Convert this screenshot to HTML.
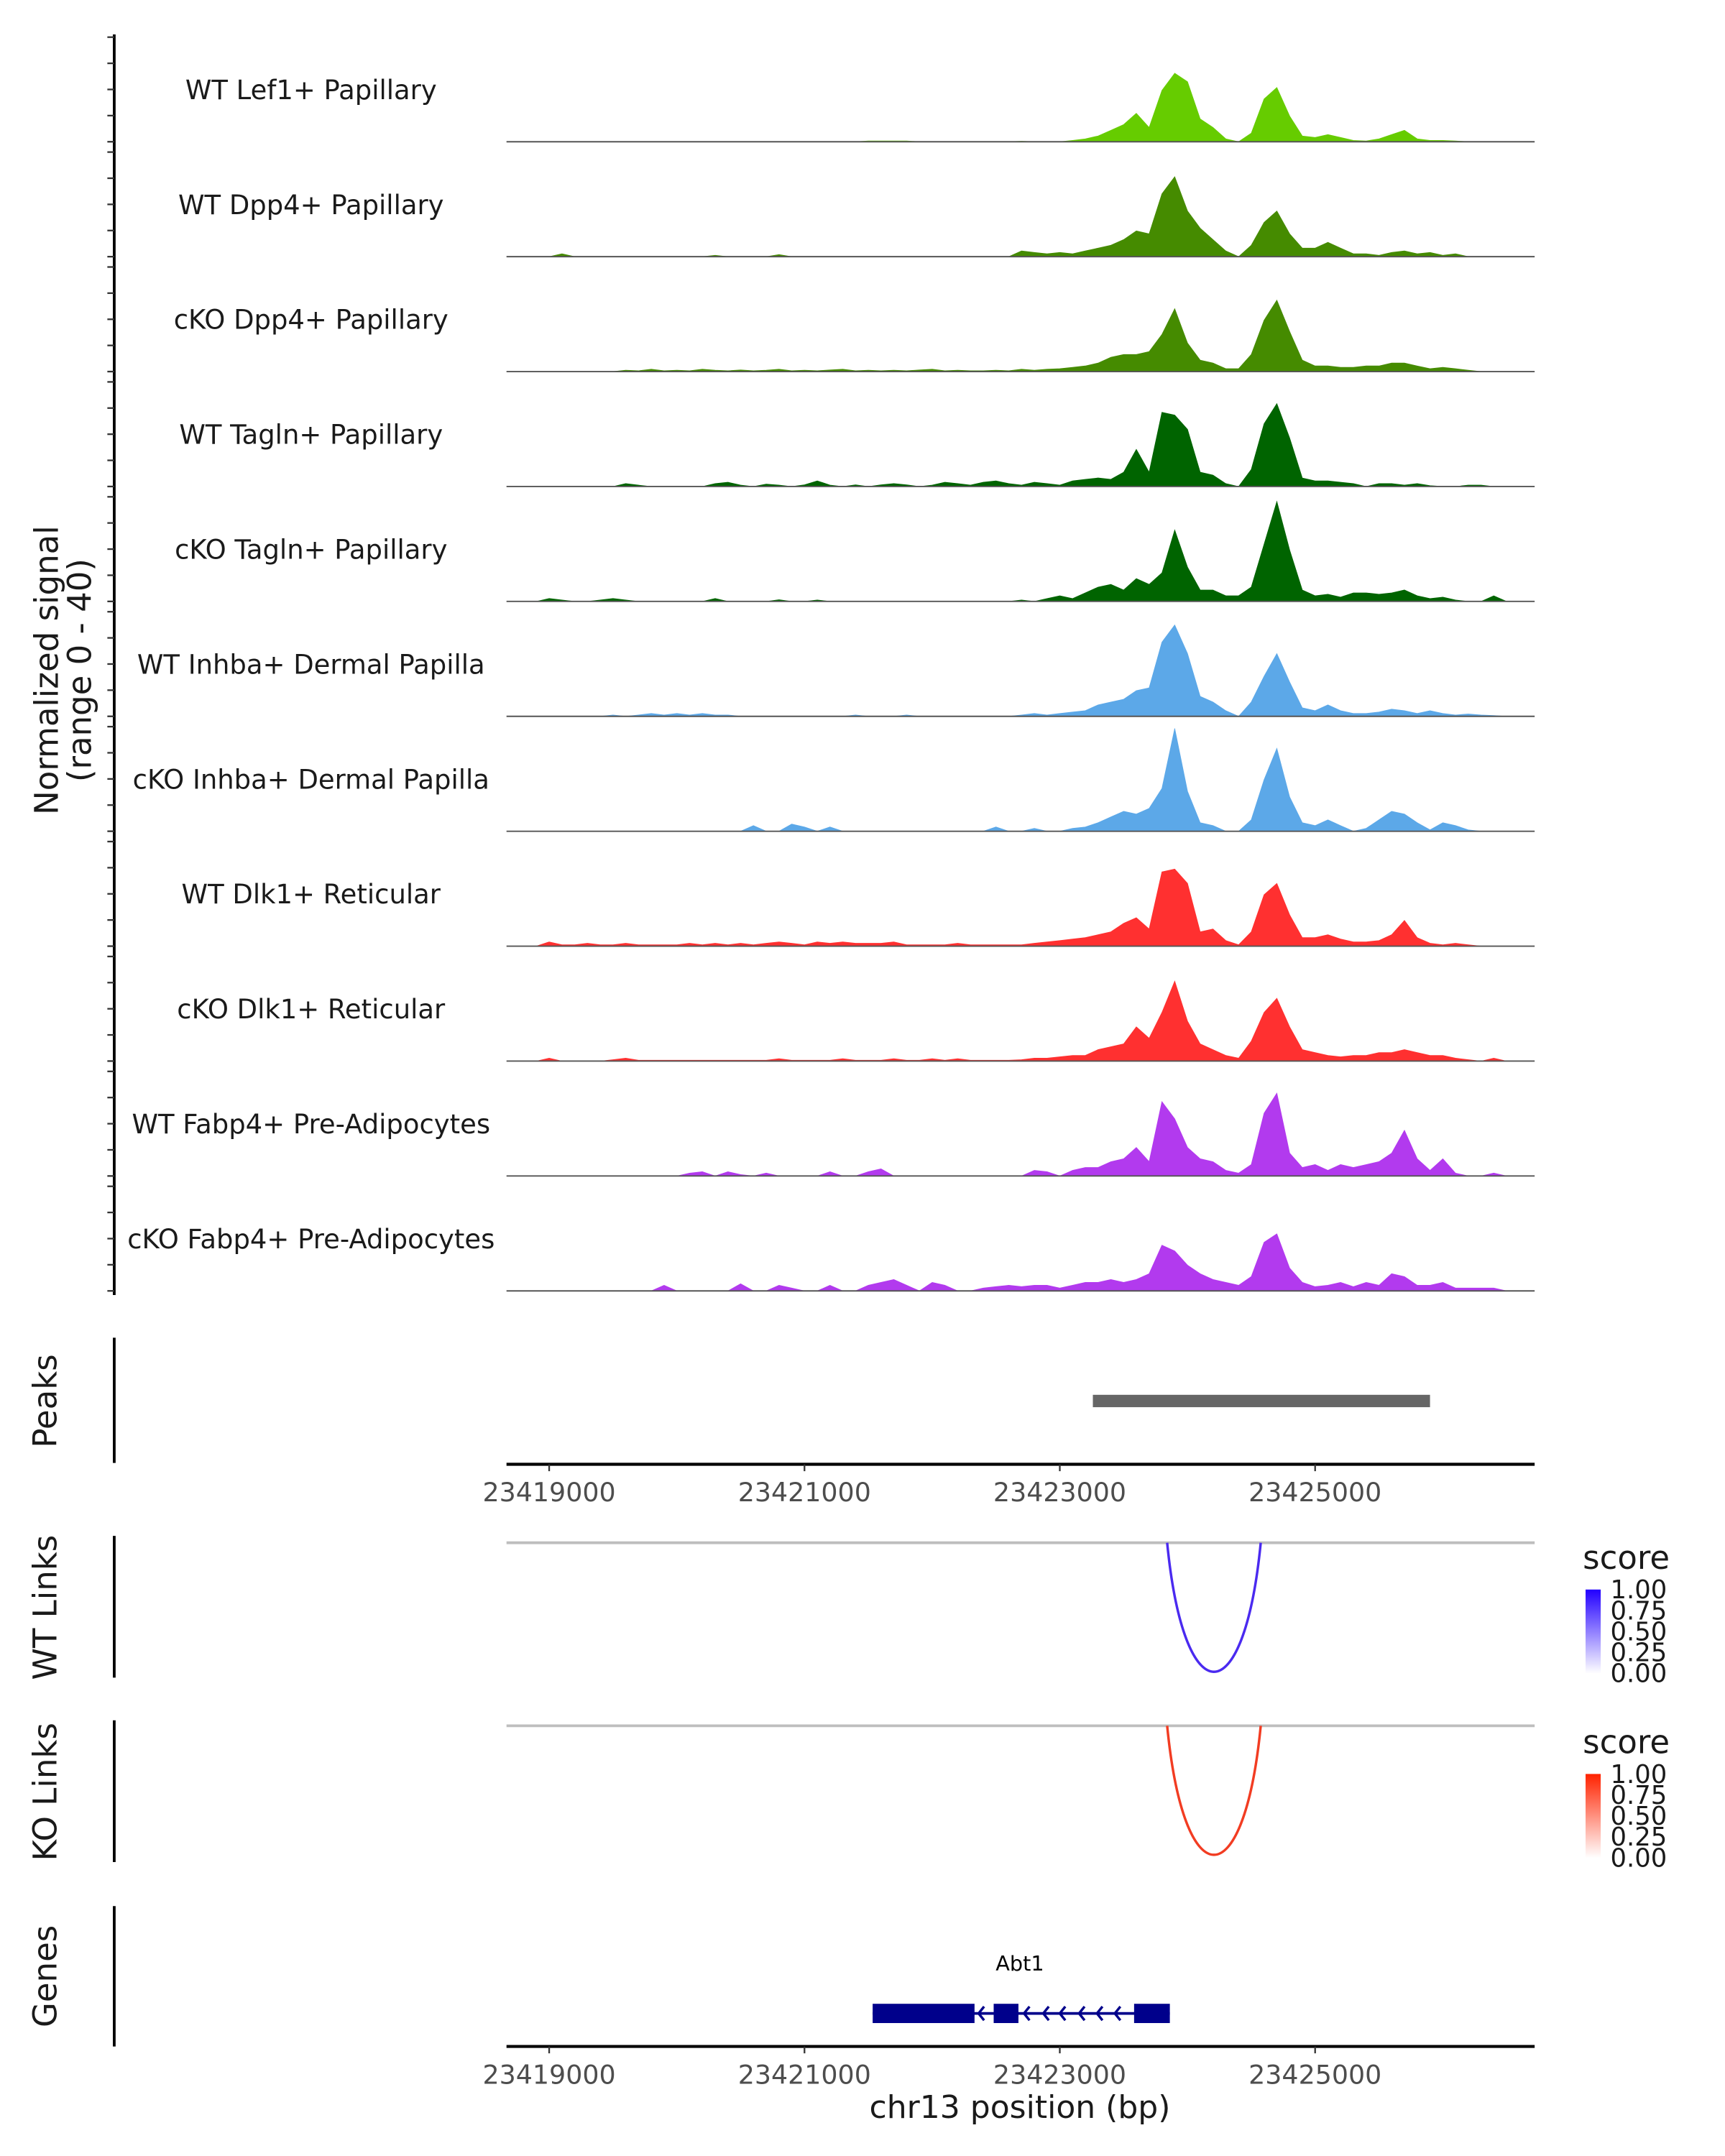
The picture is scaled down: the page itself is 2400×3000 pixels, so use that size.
<!DOCTYPE html>
<html><head><meta charset="utf-8">
<style>
html,body{margin:0;padding:0;background:#fff;}
svg{display:block;font-family:"DejaVu Sans","Liberation Sans",sans-serif;}
</style></head>
<body>
<svg id="chart" width="2400" height="3000" viewBox="0 0 1253.3 1566.6" preserveAspectRatio="none" xmlns="http://www.w3.org/2000/svg">
<rect width="1253.3" height="1566.6" fill="#fff"/>
<g id="tracks"></g>
<g id="lower"></g>
<text transform="translate(42,487) rotate(-90)" text-anchor="middle" font-size="23.5" fill="#1a1a1a">Normalized signal</text>
<text transform="translate(66,487) rotate(-90)" text-anchor="middle" font-size="23.5" fill="#1a1a1a">(range 0 - 40)</text>
<text transform="translate(41,1018) rotate(-90)" text-anchor="middle" font-size="23.5" fill="#1a1a1a">Peaks</text>
<text transform="translate(41,1168) rotate(-90)" text-anchor="middle" font-size="23.5" fill="#1a1a1a">WT Links</text>
<text transform="translate(41,1302) rotate(-90)" text-anchor="middle" font-size="23.5" fill="#1a1a1a">KO Links</text>
<text transform="translate(41,1436) rotate(-90)" text-anchor="middle" font-size="23.5" fill="#1a1a1a">Genes</text>
<text x="741" y="1539" text-anchor="middle" font-size="23" fill="#1a1a1a">chr13 position (bp)</text>
<defs>
<linearGradient id="gBlue" x1="0" y1="1" x2="0" y2="0"><stop offset="0" stop-color="#ffffff"/><stop offset="1" stop-color="#2200ff"/></linearGradient>
<linearGradient id="gRed" x1="0" y1="1" x2="0" y2="0"><stop offset="0" stop-color="#ffffff"/><stop offset="1" stop-color="#ff2200"/></linearGradient>
</defs>
</svg>
<script>
const trackNames = ["WT Lef1+ Papillary","WT Dpp4+ Papillary","cKO Dpp4+ Papillary","WT Tagln+ Papillary","cKO Tagln+ Papillary","WT Inhba+ Dermal Papilla","cKO Inhba+ Dermal Papilla","WT Dlk1+ Reticular","cKO Dlk1+ Reticular","WT Fabp4+ Pre-Adipocytes","cKO Fabp4+ Pre-Adipocytes"];
const trackColors = ["#66cc00","#458b00","#458b00","#006400","#006400","#5ca8e8","#5ca8e8","#ff3030","#ff3030","#b23aee","#b23aee"];
const binStart = 23418700;
const binSize = 100;
const lef1WT = [0,0,0,0,0,0,0,0,0,0, 0,0,0,0,0,0,0,0,0,0, 0,0,0,0,0,0,0,0,0.3,0.3, 0.3,0.3,0,0,0,0,0,0,0,0, 0.2,0,0,0,0.5,1,2,4,6,10, 5,18,24,21,8,5,1,0,3,15, 19,9,2,1.5,2.5,1.5,0.5,0.3,1,2.5, 4,1,0.5,0.5,0.3,0,0,0,0,0, 0];
const dpp4WT = [0,0,0,0,1,0,0,0,0,0, 0,0,0,0,0,0,0.5,0,0,0, 0,0.7,0,0,0,0,0,0,0,0, 0,0,0,0,0,0,0,0,0,0, 2,1.5,1,1.5,1,2,3,4,6,9, 8,22,28,16,10,6,2,0,4,12, 16,8,3,3,5,3,1,1,0.5,1.5, 2,1,1.5,0.5,1,0,0,0,0,0, 0];
const dpp4KO = [0,0,0,0,0,0,0,0,0,0.5, 0.3,0.8,0.3,0.5,0.3,0.8,0.5,0.3,0.6,0.3, 0.5,0.8,0.3,0.5,0.3,0.6,0.8,0.3,0.5,0.3, 0.5,0.3,0.6,0.8,0.3,0.5,0.3,0.3,0.5,0.3, 0.8,0.5,0.8,1,1.5,2,3,5,6,6, 7,13,22,10,4,3,1,1,6,18, 25,14,4,2,2,1.5,1.5,2,2,3, 3,2,1,1.5,1,0.5,0,0,0,0, 0];
const taglnWT = [0,0,0,0,0,0,0,0,0,1, 0.5,0,0,0,0,0,1,1.5,0.5,0, 0.8,0.5,0,0.6,2,0.5,0,0.6,0,0.6, 1,0.6,0,0.5,1.5,1,0.5,1.5,2,1, 0.5,1.5,1,0.5,2,2.5,3,2.5,5,13, 5,26,25,20,5,4,1,0,6,22, 29,17,3,2,2,1.5,1,0,1,1, 0.5,1,0.3,0,0,0.5,0.5,0,0,0, 0];
const taglnKO = [0,0,0,1,0.5,0,0,0.5,1,0.5, 0,0,0,0,0,0,1,0,0,0, 0,0.6,0,0,0.5,0,0,0,0,0, 0,0,0,0,0,0,0,0,0,0, 0.5,0,1,2,1,3,5,6,4,8, 6,10,25,12,4,4,2,2,5,20, 35,18,4,2,2.5,1.5,3,3,2.5,3, 4,2,1,1.5,0.5,0,0,2,0,0, 0];
const inhbaWT = [0,0,0,0,0,0,0,0,0.5,0, 0.5,1,0.5,1,0.5,1,0.5,0.5,0,0, 0,0,0,0,0,0,0,0.5,0,0, 0,0.5,0,0,0,0,0,0,0,0, 0.5,1,0.5,1,1.5,2,4,5,6,9, 10,26,32,22,7,5,2,0,5,14, 22,12,3,2,4,2,1,1,1.5,2.5, 2,1,2,1,0.5,0.8,0.5,0.3,0,0, 0];
const inhbaKO = [0,0,0,0,0,0,0,0,0,0, 0,0,0,0,0,0,0,0,0,2, 0,0,2.5,1.5,0,1.5,0,0,0,0, 0,0,0,0,0,0,0,0,1.5,0, 0,1,0,0,1,1.5,3,5,7,6, 8,15,36,14,3,2,0,0,4,18, 29,12,3,2,4,2,0,1,4,7, 6,3,0.5,3,2,0.5,0,0,0,0, 0];
const dlk1WT = [0,0,0,1.5,0.5,0.5,1,0.5,0.5,1, 0.5,0.5,0.5,0.5,1,0.5,1,0.5,1,0.5, 1,1.5,1,0.5,1.5,1,1.5,1,1,1, 1.5,0.5,0.5,0.5,0.5,1,0.5,0.5,0.5,0.5, 0.5,1,1.5,2,2.5,3,4,5,8,10, 6,26,27,22,5,6,2,0.5,5,18, 22,11,3,3,4,2.5,1.5,1.5,2,4, 9,3,1,0.5,1,0.5,0,0,0,0, 0];
const dlk1KO = [0,0,0,1,0,0,0,0,0.5,1, 0.3,0.3,0.3,0.3,0.3,0.3,0.3,0.3,0.3,0.3, 0.3,0.8,0.3,0.3,0.3,0.3,0.8,0.3,0.3,0.3, 0.8,0.3,0.3,0.8,0.3,0.8,0.3,0.3,0.3,0.3, 0.5,1,1,1.5,2,2,4,5,6,12, 8,17,28,14,6,4,2,1,7,17, 22,12,4,3,2,1.5,2,2,3,3, 4,3,2,2,1,0.5,0,1,0,0, 0];
const fabp4WT = [0,0,0,0,0,0,0,0,0,0, 0,0,0,0,1,1.5,0,1.5,0.5,0, 1,0,0,0,0,1.5,0,0,1.5,2.5, 0,0,0,0,0,0,0,0,0,0, 0,2,1.5,0,2,3,3,5,6,10, 5,26,20,10,6,5,2,1,4,22, 29,8,3,4,2,4,3,4,5,8, 16,6,2,6,1,0,0,1,0,0, 0];
const fabp4KO = [0,0,0,0,0,0,0,0,0,0, 0,0,2,0,0,0,0,0,2.5,0, 0,2,1,0,0,2,0,0,2,3, 4,2,0,3,2,0,0,1,1.5,2, 1.5,2,2,1,2,3,3,4,3,4, 6,16,14,9,6,4,3,2,5,17, 20,8,3,1.5,2,3,1.5,3,2,6, 5,2,2,3,1,1,1,1,0,0, 0];
const trackValues = [lef1WT,dpp4WT,dpp4KO,taglnWT,taglnKO,inhbaWT,inhbaKO,dlk1WT,dlk1KO,fabp4WT,fabp4KO];
const xTicks = [23419000,23421000,23423000,23425000];
const xTickLabels = ["23419000","23421000","23423000","23425000"];
const peakStart = [23423259];
const peakEnd = [23425900];
const wtLinkStart = [23423841];
const wtLinkEnd = [23424574];
const koLinkStart = [23423841];
const koLinkEnd = [23424574];
const exonStart = [23421534,23422482,23423582];
const exonEnd = [23422332,23422676,23423862];
const geneStart = [23421534];
const geneEnd = [23423862];
const legendTicks = ["1.00","0.75","0.50","0.25","0.00"];

const NS = "http://www.w3.org/2000/svg";
function mk(tag, attrs, parent){const e=document.createElementNS(NS,tag);for(const k in attrs)e.setAttribute(k,attrs[k]);parent.appendChild(e);return e;}
const X0=368, X1=1115;
function xs(bp){return 399 + (bp-23419000)*185.5/2000;}
const firstBase=103, trackGap=83.5, pxPerUnit=2.075;
function ys(base,v){return base - v*pxPerUnit;}

const tracks=document.getElementById('tracks');
const ax=mk('line',{x1:83,y1:25,x2:83,y2:941,stroke:'#000','stroke-width':2},tracks);


trackNames.forEach((name,t)=>{
  const base=firstBase+t*trackGap;
  for(let k=0;k<5;k++){
    const tk=mk('line',{x1:78,x2:83,y1:base-k*19,y2:base-k*19,stroke:'#333','stroke-width':1.2},tracks);
    
    
  }
  const lbl=mk('text',{x:226,y:base-31,'text-anchor':'middle','font-size':19.3,fill:'#1a1a1a'},tracks);
  lbl.textContent=name;
  
  
  const vals=trackValues[t];
  let d='M'+xs(binStart).toFixed(1)+' '+base;
  vals.forEach((v,i)=>{d+=' L'+xs(binStart+i*binSize).toFixed(1)+' '+ys(base,v).toFixed(1);});
  d+=' L'+xs(binStart+(vals.length-1)*binSize).toFixed(1)+' '+base+' Z';
  const area=mk('path',{d:d,fill:trackColors[t],stroke:trackColors[t],'stroke-width':0.4},tracks);
  
  
  const bl=mk('line',{x1:X0,x2:X1,y1:base,y2:base,stroke:'#555','stroke-width':1},tracks);
  
  
});

const low=document.getElementById('lower');
function vaxis(y1,y2,name){const l=mk('line',{x1:83,x2:83,y1:y1,y2:y2,stroke:'#000','stroke-width':2},low);}
vaxis(972,1063,'peaks-axis');vaxis(1116,1219,'wt-links-axis');vaxis(1250,1353,'ko-links-axis');vaxis(1385,1487,'genes-axis');
peakStart.forEach((s,i)=>{
  const r=mk('rect',{x:xs(s),y:1013.5,width:xs(peakEnd[i])-xs(s),height:9,fill:'#666'},low);
  
  
});
function xaxis(y,name){
  const l=mk('line',{x1:X0,x2:X1,y1:y,y2:y,stroke:'#000','stroke-width':2.2},low);
  
  
  xTicks.forEach((b,i)=>{
    const t=mk('line',{x1:xs(b),x2:xs(b),y1:y,y2:y+5,stroke:'#333','stroke-width':1.2},low);
    
    
    const tx=mk('text',{x:xs(b),y:y+27,'text-anchor':'middle','font-size':19,fill:'#4d4d4d'},low);
    tx.textContent=xTickLabels[i];
    
    
  });
}
xaxis(1064,'peaks-x-axis');xaxis(1487,'genes-x-axis');
function links(base,starts,ends,color,name){
  const g=mk('line',{x1:X0,x2:X1,y1:base,y2:base,stroke:'#bebebe','stroke-width':2},low);
  
  
  starts.forEach((s,i)=>{
    const a=xs(s),b=xs(ends[i]),w=b-a,depth=125;
    const p=mk('path',{d:`M${a} ${base} C${a+w*0.18} ${base+depth},${b-w*0.18} ${base+depth},${b} ${base}`,fill:'none',stroke:color,'stroke-width':1.8},low);
    
    
  });
}
links(1121,wtLinkStart,wtLinkEnd,'#4a2af0','wt-link');
links(1254,koLinkStart,koLinkEnd,'#f23c22','ko-link');
function legend(top,grad,name){
  const t=mk('text',{x:1150,y:top,'font-size':23.5,fill:'#1a1a1a'},low);
  t.textContent='score';
  
  
  const r=mk('rect',{x:1152,y:top+15,width:11,height:61,fill:`url(#${grad})`},low);
  
  
  legendTicks.forEach((lab,i)=>{
    const y=top+15+i*15.2;
    const tx=mk('text',{x:1170,y:y+6.5,'font-size':18.5,fill:'#1a1a1a'},low);
    tx.textContent=lab;
    
    
  });
}
legend(1140,'gBlue','wt-legend');legend(1274,'gRed','ko-legend');
const gName=mk('text',{x:741,y:1432,'text-anchor':'middle','font-size':15,fill:'#000'},low);
gName.textContent='Abt1';


const gY=1463;
geneStart.forEach((s,i)=>{
  const l=mk('line',{x1:xs(s),x2:xs(geneEnd[i]),y1:gY,y2:gY,stroke:'#00008b','stroke-width':2},low);
  
  
  const arrowsX=[711,744,758,770,784,797,810];
  arrowsX.forEach(cx=>{
    const c=mk('path',{d:`M${cx+4} ${gY-5} L${cx} ${gY} L${cx+4} ${gY+5}`,fill:'none',stroke:'#00008b','stroke-width':1.8},low);
    
    
  });
});
exonStart.forEach((s,i)=>{
  const r=mk('rect',{x:xs(s),y:gY-7,width:xs(exonEnd[i])-xs(s),height:14,fill:'#00008b'},low);
  
  
});
</script>
</body></html>
